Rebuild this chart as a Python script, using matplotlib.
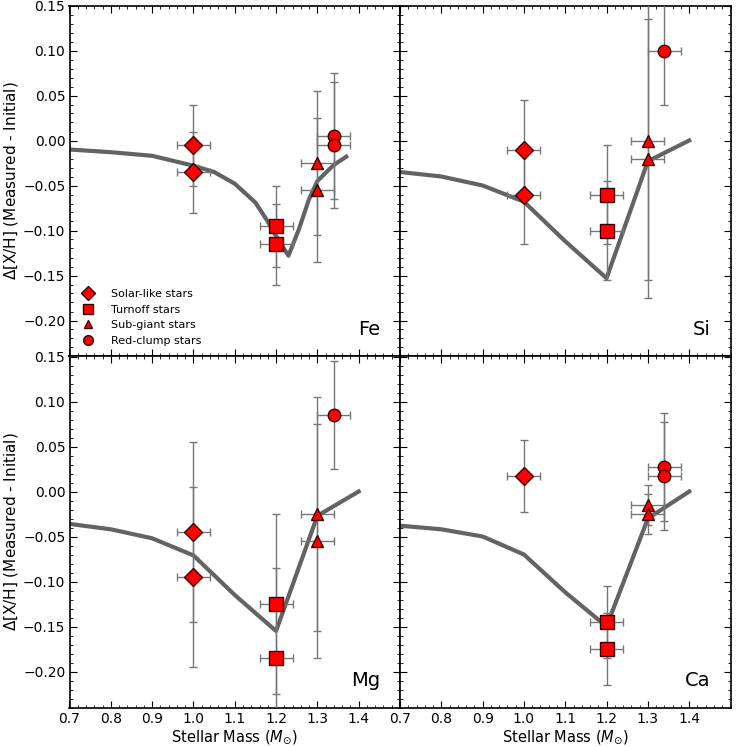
import matplotlib
matplotlib.use("Agg")
import matplotlib.pyplot as plt
from matplotlib.ticker import MultipleLocator
import numpy as np

# ---- data ----
elements = ["Fe", "Si", "Mg", "Ca"]

star_types = ["Solar-like stars", "Turnoff stars", "Sub-giant stars", "Red-clump stars"]
star_markers = ["D", "s", "^", "o"]
star_msize = [9, 10, 8, 9]
star_mass = [1.0, 1.2, 1.3, 1.34]
mass_err = 0.04

# measured - initial, per element, per star type
fe_vals = [[-0.005, -0.035], [-0.095, -0.115], [-0.025, -0.055], [0.005, -0.005]]
fe_errs = [0.045, 0.045, 0.08, 0.07]
si_vals = [[-0.01, -0.06], [-0.06, -0.10], [0.0, -0.02], [0.10]]
si_errs = [0.055, 0.055, 0.155, 0.06]
mg_vals = [[-0.045, -0.095], [-0.125, -0.185], [-0.025, -0.055], [0.085]]
mg_errs = [0.10, 0.10, 0.13, 0.06]
ca_vals = [[0.017], [-0.145, -0.175], [-0.015, -0.025], [0.027, 0.017]]
ca_errs = [0.04, 0.04, 0.022, 0.06]

# model curves
fe_model_mass = [0.7, 0.8, 0.9, 1.0, 1.05, 1.1, 1.15, 1.18, 1.2, 1.23, 1.255, 1.28, 1.3, 1.34, 1.37]
fe_model = [-0.010, -0.013, -0.017, -0.028, -0.035, -0.048, -0.069, -0.090, -0.106, -0.128,
            -0.099, -0.065, -0.045, -0.027, -0.018]
model_mass = [0.7, 0.8, 0.9, 1.0, 1.1, 1.2, 1.3, 1.4]
si_model = [-0.035, -0.040, -0.050, -0.068, -0.112, -0.153, -0.023, 0.0]
mg_model = [-0.036, -0.042, -0.052, -0.071, -0.115, -0.155, -0.027, 0.0]
ca_model = [-0.038, -0.042, -0.050, -0.070, -0.112, -0.150, -0.030, 0.0]

all_vals = [fe_vals, si_vals, mg_vals, ca_vals]
all_errs = [fe_errs, si_errs, mg_errs, ca_errs]
all_model = [(fe_model_mass, fe_model), (model_mass, si_model),
             (model_mass, mg_model), (model_mass, ca_model)]

xticks = [0.7, 0.8, 0.9, 1.0, 1.1, 1.2, 1.3, 1.4]
yticks = [0.15, 0.10, 0.05, 0.00, -0.05, -0.10, -0.15, -0.20]

W, H = 738, 747
fig, axes = plt.subplots(2, 2, figsize=(W / 100, H / 100), dpi=100, sharex=True, sharey=True)
fig.subplots_adjust(left=69.5 / W, right=730.5 / W, top=1 - 5.5 / H, bottom=1 - 707.5 / H,
                    wspace=0, hspace=0)

for i, ax in enumerate(axes.flat):
    mx, my = all_model[i]
    ax.plot(mx, my, color="#636363", lw=3, zorder=2)
    for j in range(4):
        vals = all_vals[i][j]
        xs = [star_mass[j]] * len(vals)
        ax.errorbar(xs, vals, xerr=mass_err, yerr=all_errs[i][j], fmt="none",
                    ecolor="#777777", elinewidth=1, capsize=3, capthick=1, zorder=3)
        ax.plot(xs, vals, linestyle="none", marker=star_markers[j], ms=star_msize[j],
                mfc="red", mec="#3a0000", mew=1, zorder=4,
                label=star_types[j] if i == 0 else None)
    ax.text(0.94, 0.05, elements[i], transform=ax.transAxes, ha="right", va="bottom",
            fontsize=14)

    ax.set_xlim(0.7, 1.5)
    ax.set_ylim(-0.24, 0.15)
    ax.set_xticks(xticks)
    ax.set_yticks(yticks)
    ax.xaxis.set_minor_locator(MultipleLocator(0.02))
    ax.yaxis.set_minor_locator(MultipleLocator(0.01))
    ax.tick_params(which="both", direction="in", top=True, right=True, labelsize=10, pad=3)
    ax.tick_params(which="major", length=5)
    ax.tick_params(which="minor", length=2.5)
    for s in ax.spines.values():
        s.set_linewidth(1.2)

for ax in axes[1]:
    ax.set_xlabel(r"Stellar Mass ($M_{\odot}$)", fontsize=10.5, labelpad=2)
    ax.set_xticklabels([f"{t:.1f}" for t in xticks])
for ax in axes[:, 0]:
    ax.set_ylabel(r"$\Delta$[X/H] (Measured - Initial)", fontsize=11, labelpad=2)
    ax.set_yticklabels([f"{t:.2f}".replace("-", "\u2212") for t in yticks])

axes[0, 0].legend(loc="lower left", bbox_to_anchor=(0.0097, 0.0177), frameon=False,
                  fontsize=8, handletextpad=1.05, labelspacing=0.51, borderaxespad=0,
                  markerscale=0.78)

fig.savefig("out.png", dpi=100)
